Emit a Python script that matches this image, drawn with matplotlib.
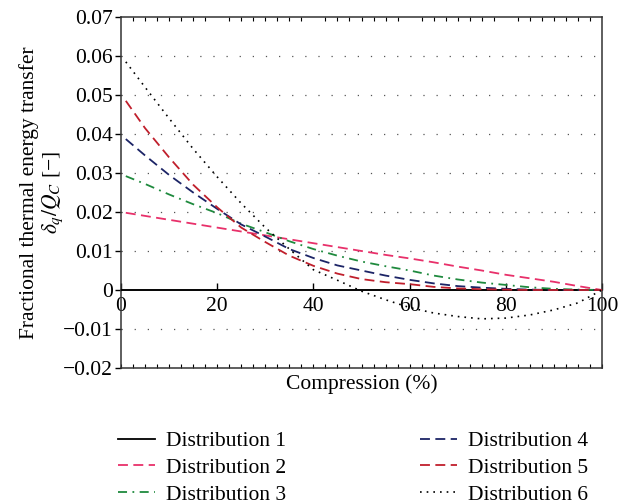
import matplotlib
matplotlib.use("Agg")
import matplotlib.pyplot as plt
from matplotlib.ticker import MultipleLocator, FixedLocator, FixedFormatter

# ---- data ----
compression = [1, 5, 10, 15, 20, 25, 30, 35, 40, 45, 50, 55, 60, 65, 70, 75, 80, 85, 90, 95, 100]
dist1 = [0.0] * len(compression)
dist2 = [0.0198, 0.0190, 0.0180, 0.0170, 0.0160, 0.0150, 0.0140, 0.0130, 0.0120, 0.0110,
         0.0100, 0.0090, 0.0081, 0.0071, 0.0060, 0.0050, 0.0039, 0.0030, 0.0021, 0.0010, 0.0]
dist3 = [0.0292, 0.0272, 0.0245, 0.0220, 0.0197, 0.0170, 0.0148, 0.0125, 0.0105, 0.0088,
         0.0073, 0.0061, 0.0050, 0.0037, 0.0027, 0.0019, 0.0013, 0.0007, 0.0003, 0.0001, 0.0]
dist4 = [0.0387, 0.0345, 0.0295, 0.0250, 0.0208, 0.0168, 0.0137, 0.0105, 0.0082, 0.0063,
         0.0050, 0.0037, 0.0026, 0.0017, 0.0010, 0.0006, 0.0003, 0.0001, 0.0, 0.0, 0.0]
dist5 = [0.0485, 0.0415, 0.0340, 0.0270, 0.0212, 0.0160, 0.0123, 0.0088, 0.0062, 0.0042,
         0.0028, 0.0020, 0.0015, 0.0008, 0.0004, 0.0002, 0.0001, 0.0, 0.0, 0.0, 0.0]
dist6 = [0.0585, 0.0520, 0.0440, 0.0362, 0.0290, 0.0222, 0.0160, 0.0105, 0.0052, 0.0025,
         -0.0003, -0.0025, -0.0045, -0.0059, -0.0068, -0.0074, -0.0072, -0.0064, -0.0051, -0.0033, 0.0]

series_labels = ["Distribution 1", "Distribution 2", "Distribution 3",
                 "Distribution 4", "Distribution 5", "Distribution 6"]

xticks = [0, 20, 40, 60, 80, 100]
xtick_labels = ["0", "20", "40", "60", "80", "100"]
yticks = [-0.02, -0.01, 0.0, 0.01, 0.02, 0.03, 0.04, 0.05, 0.06, 0.07]
ytick_labels = ["\u22120.02", "\u22120.01", "0", "0.01", "0.02", "0.03", "0.04", "0.05", "0.06", "0.07"]
grid_levels = [-0.01, 0.01, 0.02, 0.03, 0.04, 0.05, 0.06]

plt.rcParams['font.family'] = ['Liberation Serif', 'DejaVu Serif']
plt.rcParams['mathtext.fontset'] = 'stix'

FS = 15.5
fig = plt.figure(figsize=(6.26, 5.04), dpi=100)
ax = fig.add_axes([121/626, 1-368/504, (602-121)/626, (368-17)/504])

# grid lines (dotted)
for g in grid_levels:
    ax.axhline(g, color='#555555', lw=0.9, linestyle=(0, (1, 9.5)), zorder=0.5)

styles = [
    dict(color='black', ls='-', lw=1.3),
    dict(color='#e8306a', ls=(0, (5.5, 3)), lw=1.3),
    dict(color='#1f8a3e', ls=(0, (5, 3, 1, 3)), lw=1.3),
    dict(color='#1c2466', ls=(0, (5.5, 3)), lw=1.3),
    dict(color='#c01f2c', ls=(0, (5.5, 3)), lw=1.3),
    dict(color='black', ls=(0, (1, 3)), lw=1.2),
]
data = [dist1, dist2, dist3, dist4, dist5, dist6]
handles = []
for d, st, lab in zip(data, styles, series_labels):
    xs = compression if lab != "Distribution 1" else [0] + compression[1:]
    h, = ax.plot(xs, d, color=st['color'], linestyle=st['ls'], lw=st['lw'], label=lab, zorder=3)
    handles.append(h)

ax.set_xlim(0, 100)
ax.set_ylim(-0.02, 0.07)

# x axis on zero line
ax.spines['bottom'].set_position(('data', 0))
for s in ax.spines.values():
    s.set_linewidth(1.1)
    s.set_color('#333333')
ax.xaxis.set_major_locator(FixedLocator(xticks))
ax.xaxis.set_major_formatter(FixedFormatter(xtick_labels))
ax.xaxis.set_minor_locator(MultipleLocator(2.5))
ax.tick_params(axis='x', which='major', direction='in', length=5, width=1, top=False, bottom=True,
               labelsize=FS, pad=5)
ax.tick_params(axis='x', which='minor', direction='in', length=3, width=0.8, top=True, bottom=False)

ax.yaxis.set_major_locator(FixedLocator(yticks))
ax.yaxis.set_major_formatter(FixedFormatter(ytick_labels))
ax.tick_params(axis='y', which='major', direction='out', length=4, width=1, labelsize=FS, pad=2)

# bottom frame with minor ticks
sec = ax.secondary_xaxis('bottom')
sec.spines['bottom'].set_linewidth(1.1)
sec.spines['bottom'].set_color('#333333')
sec.xaxis.set_major_locator(FixedLocator([]))
sec.xaxis.set_minor_locator(MultipleLocator(2.5))
sec.tick_params(axis='x', which='minor', direction='in', length=3, width=0.8)
sec.set_xlabel("Compression (%)", fontsize=FS, labelpad=1)

ax.set_ylabel("Fractional thermal energy transfer\n$\\delta_q/Q_C$ [\u2212]", fontsize=FS,
              multialignment='center', linespacing=1.1)
ax.yaxis.set_label_coords(-0.116, 0.5)

leg = fig.legend(handles=handles, labels=series_labels, ncol=2, frameon=False, fontsize=FS,
                 loc='upper left', bbox_to_anchor=(118/626, 1-431/504), borderpad=0, borderaxespad=0,
                 handlelength=1.7, handletextpad=0.55, labelspacing=0.32, columnspacing=6.2)

fig.savefig("out.png", dpi=100)
